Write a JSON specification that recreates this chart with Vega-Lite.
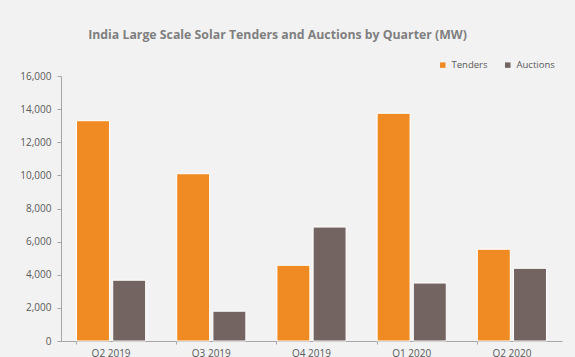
{
  "$schema": "https://vega.github.io/schema/vega-lite/v6.json",
  "width": 501,
  "height": 265,
  "autosize": "none",
  "padding": {"left": 61, "top": 76, "right": 13, "bottom": 16},
  "background": "#f2f2f2",
  "title": {
    "text": "India Large Scale Solar Tenders and Auctions by Quarter (MW)",
    "font": "Open Sans",
    "fontSize": 12.3,
    "fontWeight": "bold",
    "color": "#7f7f7f",
    "anchor": "middle",
    "dx": -34,
    "offset": 19
  },
  "data": {
    "values": [
      {"quarter": "Q2 2019", "series": "Tenders", "mw": 13300},
      {"quarter": "Q2 2019", "series": "Auctions", "mw": 3670},
      {"quarter": "Q3 2019", "series": "Tenders", "mw": 10100},
      {"quarter": "Q3 2019", "series": "Auctions", "mw": 1800},
      {"quarter": "Q4 2019", "series": "Tenders", "mw": 4570},
      {"quarter": "Q4 2019", "series": "Auctions", "mw": 6880},
      {"quarter": "Q1 2020", "series": "Tenders", "mw": 13750},
      {"quarter": "Q1 2020", "series": "Auctions", "mw": 3500},
      {"quarter": "Q2 2020", "series": "Tenders", "mw": 5540},
      {"quarter": "Q2 2020", "series": "Auctions", "mw": 4390}
    ]
  },
  "mark": {"type": "bar", "stroke": "#ffffff", "strokeWidth": 1},
  "encoding": {
    "x": {
      "field": "quarter",
      "type": "nominal",
      "sort": null,
      "title": null,
      "scale": {"paddingInner": 0.31, "paddingOuter": 0.155},
      "axis": {
        "labelAngle": 0,
        "bandPosition": 0,
        "domainColor": "#a6a6a6",
        "tickColor": "#a6a6a6",
        "tickSize": 3,
        "labelPadding": 4,
        "labelFont": "Open Sans",
        "labelFontSize": 10,
        "labelColor": "#595959"
      }
    },
    "xOffset": {
      "field": "series",
      "type": "nominal",
      "sort": ["Tenders", "Auctions"],
      "scale": {"paddingInner": 0.09}
    },
    "y": {
      "field": "mw",
      "type": "quantitative",
      "title": null,
      "scale": {"domain": [0, 16000], "nice": false},
      "axis": {
        "values": [0, 2000, 4000, 6000, 8000, 10000, 12000, 14000, 16000],
        "format": ",.0f",
        "grid": false,
        "domainColor": "#a6a6a6",
        "tickColor": "#a6a6a6",
        "tickSize": 4,
        "labelPadding": 6,
        "labelFont": "Open Sans",
        "labelFontSize": 10,
        "labelColor": "#595959"
      }
    },
    "color": {
      "field": "series",
      "type": "nominal",
      "sort": ["Tenders", "Auctions"],
      "scale": {"domain": ["Tenders", "Auctions"], "range": ["#ef8b22", "#746461"]},
      "legend": {
        "title": null,
        "orient": "none",
        "direction": "horizontal",
        "legendX": 377,
        "legendY": -16,
        "symbolType": "square",
        "symbolSize": 30,
        "symbolStrokeWidth": 0,
        "labelFont": "Open Sans",
        "labelFontSize": 9.5,
        "labelColor": "#595959",
        "columnPadding": 15
      }
    }
  },
  "config": {"view": {"stroke": null}}
}
